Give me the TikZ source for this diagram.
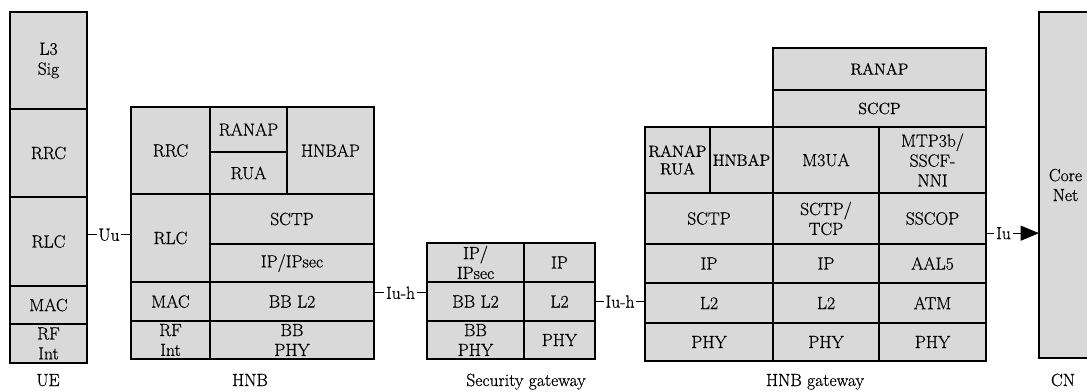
\documentclass[tikz,border=0pt]{standalone}
\usepackage{fontspec}
\setmainfont{Latin Modern Roman}[FakeBold=0.6]
\usetikzlibrary{arrows.meta}

\definecolor{cellgray}{RGB}{217,217,217}

% one protocol layer: options, name, x1, y1, x2, y2, text
\newcommand{\lyr}[7][]{%
  \node[cell, #1, minimum width={(#5-#3)*0.03cm}, minimum height={(#6-#4)*0.03cm}]
    (#2) at ({(#3+#5)/2},{(#4+#6)/2}) {#7};}

\begin{document}
\begin{tikzpicture}[x=0.03cm, y=-0.03cm,
  cell/.style={draw, line width=1.1pt, fill=cellgray, inner sep=0pt, outer sep=0pt,
    align=center, font=\fontsize{15}{17}\selectfont},
  small/.style={font=\fontsize{13.8}{15}\selectfont},
  conn/.style={line width=0.7pt},
  lbl/.style={fill=white, inner sep=1.5pt, font=\fontsize{15}{17}\selectfont},
  stackname/.style={anchor=base, font=\fontsize{15}{17}\selectfont}]

\useasboundingbox (0,0) rectangle (1087,392);
\clip (0,0) rectangle (1087,392);

\begin{scope}
  \lyr{ue-l3}{10}{12}{87}{109}{L3\\Sig}
  \lyr{ue-rrc}{10}{109}{87}{197}{RRC}
  \lyr{ue-rlc}{10}{197}{87}{286}{RLC}
  \lyr{ue-mac}{10}{286}{87}{324}{MAC}
  \lyr{ue-rf}{10}{324}{87}{363}{RF\\Int}
  \node[stackname] (ue-name) at (48,386) {UE};
\end{scope}

\begin{scope}
  \lyr{hnb-rrc}{131}{107}{210}{194}{RRC}
  \lyr{hnb-ranap}{210}{107}{287}{152}{RANAP}
  \lyr{hnb-rua}{210}{152}{287}{194}{RUA}
  \lyr{hnb-hnbap}{287}{107}{374}{194}{HNBAP}
  \lyr{hnb-rlc}{131}{194}{210}{282}{RLC}
  \lyr{hnb-sctp}{210}{194}{374}{244}{SCTP}
  \lyr{hnb-ip}{210}{244}{374}{282}{IP/IPsec}
  \lyr{hnb-mac}{131}{282}{210}{321}{MAC}
  \lyr{hnb-l2}{210}{282}{374}{321}{BB L2}
  \lyr{hnb-rf}{131}{321}{210}{359}{RF\\Int}
  \lyr{hnb-phy}{210}{321}{374}{359}{BB\\PHY}
  \node[stackname] (hnb-name) at (250,386) {HNB};
\end{scope}

\begin{scope}
  \lyr{sg-ipsec}{427}{243}{524}{282}{IP/\\IPsec}
  \lyr{sg-ip}{524}{243}{595}{282}{IP}
  \lyr{sg-bbl2}{427}{282}{524}{321}{BB L2}
  \lyr{sg-l2}{524}{282}{595}{321}{L2}
  \lyr{sg-bbphy}{427}{321}{524}{359}{BB\\PHY}
  \lyr{sg-phy}{524}{321}{595}{359}{PHY}
  \node[stackname] (sg-name) at (526,386) {Security gateway};
\end{scope}

\begin{scope}
  \lyr[small]{gw-ranaprua}{645}{127}{710}{193}{RANAP\\RUA}
  \lyr[small]{gw-hnbap}{710}{127}{773}{193}{HNBAP}
  \lyr{gw-sctp}{645}{193}{773}{244}{SCTP}
  \lyr{gw-ip}{645}{244}{773}{283}{IP}
  \lyr{gw-l2}{645}{283}{773}{323}{L2}
  \lyr{gw-phy}{645}{323}{773}{361}{PHY}
  \lyr[small]{gw-ranap}{773}{48}{986}{90}{RANAP}
  \lyr[small]{gw-sccp}{773}{90}{986}{127}{SCCP}
  \lyr{gw-m3ua}{773}{127}{879}{193}{M3UA}
  \lyr{gw-sctptcp}{773}{193}{879}{244}{SCTP/\\TCP}
  \lyr{gw-ipb}{773}{244}{879}{283}{IP}
  \lyr{gw-l2b}{773}{283}{879}{323}{L2}
  \lyr{gw-phyb}{773}{323}{879}{361}{PHY}
  \lyr{gw-mtp}{879}{127}{986}{193}{MTP3b/\\SSCF-\\NNI}
  \lyr{gw-sscop}{879}{193}{986}{244}{SSCOP}
  \lyr{gw-aal5}{879}{244}{986}{283}{AAL5}
  \lyr{gw-atm}{879}{283}{986}{323}{ATM}
  \lyr{gw-phyc}{879}{323}{986}{361}{PHY}
  \node[stackname] (gw-name) at (815,386) {HNB gateway};
\end{scope}

\begin{scope}
  \lyr{cn}{1039}{12}{1092}{358}{Core\\Net}
  \node[stackname] (cn-name) at (1063,386) {CN};
\end{scope}

\coordinate (uu-a) at ([yshift=0.2cm]ue-rlc.east);
\draw[conn] (uu-a) -- (uu-a -| hnb-rlc.west) node[midway, lbl] (uu) {Uu};
\coordinate (iuh-a) at ([yshift=0.26cm]hnb-l2.east);
\draw[conn] (iuh-a) -- (iuh-a -| sg-bbl2.west) node[midway, lbl] (iuh1) {Iu-h};
\draw[conn] (sg-l2.east) -- (sg-l2.east -| gw-l2.west) node[midway, lbl] (iuh2) {Iu-h};
\coordinate (iu-a) at ([yshift=-0.44cm]gw-sscop.east);
\draw[conn, -{Triangle[length=0.55cm, width=0.45cm]}] (iu-a) -- (iu-a -| cn.west)
  node[pos=0.33, lbl] (iu) {Iu};

\end{tikzpicture}
\end{document}
